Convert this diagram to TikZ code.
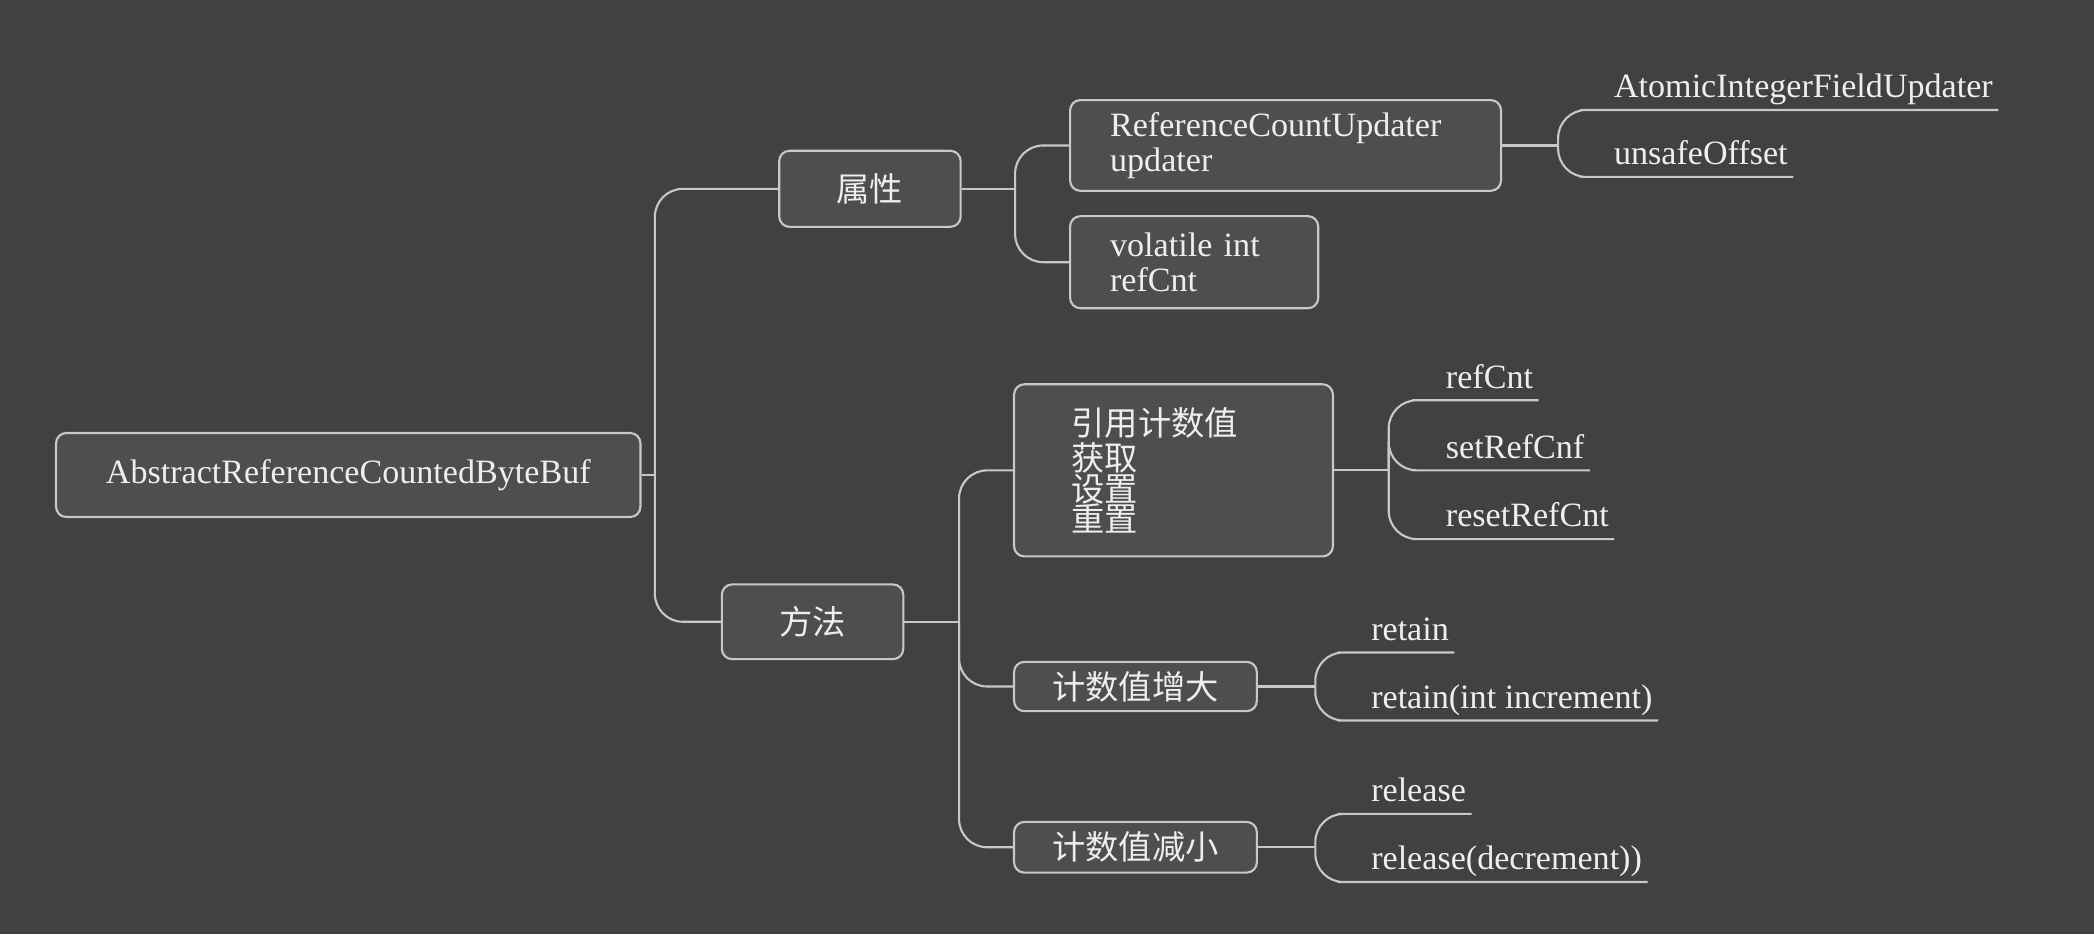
\documentclass[tikz,border=0pt]{standalone}
\usepackage{fontspec}
\setmainfont{Liberation Serif}
\newfontfamily\cjk{Noto Sans CJK SC}
\usepackage{xcolor}
\usepackage{tikz}

\definecolor{bgc}{RGB}{65,65,65}
\definecolor{boxc}{RGB}{79,78,76}
\definecolor{linec}{RGB}{200,200,200}
\definecolor{txtc}{RGB}{238,238,238}
\setlength{\lineskiplimit}{-5pt}

\begin{document}
\begin{tikzpicture}[
  mapbox/.style={draw=linec, fill=boxc, line width=0.45pt, rounded corners=2.2pt, text=txtc, inner sep=0pt},
  latin/.style={font=\fontsize{7.27}{7.5}\selectfont},
  zh/.style={font=\cjk\fontsize{7.1}{6.55}\selectfont},
  conn/.style={draw=linec, line width=0.45pt, rounded corners=6pt},
  leaf/.style={anchor=south west, inner xsep=1pt, inner ysep=0.4pt, text depth=0.2em, text=txtc,
    font=\fontsize{7.27}{7.5}\selectfont}
]
  % Background
  \fill[bgc] (0,0) rectangle (15.694,7);

  % Root and first level
  \node[mapbox, latin, minimum width=4.38cm, minimum height=0.63cm] (root) at (2.61,3.44) {AbstractReferenceCountedByteBuf};
  \node[mapbox, zh, minimum width=1.36cm, minimum height=0.57cm] (attr) at (6.52,5.585) {属性};
  \node[mapbox, zh, minimum width=1.36cm, minimum height=0.56cm] (meth) at (6.09,2.34) {方法};

  % Second level
  \node[mapbox, latin, minimum width=3.23cm, minimum height=0.68cm, inner xsep=0.3cm, text width=2.63cm, align=left]
    (upd) at (9.635,5.91) {ReferenceCountUpdater\\updater};
  \node[mapbox, latin, minimum width=1.86cm, minimum height=0.69cm, inner xsep=0.3cm, text width=1.26cm, align=left]
    (vol) at (8.95,5.035) {volatile int\\refCnt};
  \node[mapbox, zh, minimum width=2.39cm, minimum height=1.29cm, inner xsep=0.43cm, text width=1.53cm, align=left]
    (ref) at (8.795,3.475) {引用计数值\\获取\\设置\\重置};
  \node[mapbox, zh, minimum width=1.82cm, minimum height=0.37cm] (inc) at (8.51,1.855) {计数值增大};
  \node[mapbox, zh, minimum width=1.82cm, minimum height=0.38cm] (dec) at (8.51,0.65) {计数值减小};

  % Junction points
  \coordinate (rootj) at ([xshift=0.10cm]root.east);
  \coordinate (attrj) at ([xshift=0.40cm]attr.east);
  \coordinate (methj) at ([xshift=0.41cm]meth.east);
  \coordinate (updj) at ([xshift=0.42cm]upd.east);
  \coordinate (refj) at ([xshift=0.41cm]ref.east);
  \coordinate (incj) at ([xshift=0.43cm]inc.east);
  \coordinate (decj) at ([xshift=0.43cm]dec.east);

  % Branches between boxes
  \draw[conn] (root.east) -- (rootj);
  \foreach \c in {attr,meth} \draw[conn] (rootj) |- (\c.west);
  \draw[conn] (attr.east) -- (attrj);
  \foreach \c in {upd,vol} \draw[conn] (attrj) |- (\c.west);
  \draw[conn] (meth.east) -- (methj);
  \foreach \c in {ref,inc,dec} \draw[conn] (methj) |- (\c.west);

  % Leaves of the updater box
  \draw[conn] (upd.east) -- (updj);
  \foreach \n/\y/\t in {aifu/6.176/AtomicIntegerFieldUpdater, uoff/5.674/unsafeOffset} {
    \node[leaf] (\n) at (12.055,\y) {\t};
    \draw[conn] (updj) |- (\n.south west) -- (\n.south east);
  }

  % Leaves of the reference count box
  \draw[conn] (ref.east) -- (refj);
  \foreach \n/\y/\t in {rcnt/4.00/refCnt, srcnf/3.475/setRefCnf, rrcnt/2.96/resetRefCnt} {
    \node[leaf] (\n) at (10.795,\y) {\t};
    \draw[conn] (refj) |- (\n.south west) -- (\n.south east);
  }

  % Leaves of increase and decrease
  \draw[conn] (inc.east) -- (incj);
  \foreach \n/\y/\t in {ret/2.11/retain, reti/1.60/retain(int increment)} {
    \node[leaf] (\n) at (10.235,\y) {\t};
    \draw[conn] (incj) |- (\n.south west) -- (\n.south east);
  }
  \draw[conn] (dec.east) -- (decj);
  \foreach \n/\y/\t in {rel/0.90/release, reld/0.39/release(decrement))} {
    \node[leaf] (\n) at (10.235,\y) {\t};
    \draw[conn] (decj) |- (\n.south west) -- (\n.south east);
  }

\end{tikzpicture}
\end{document}
